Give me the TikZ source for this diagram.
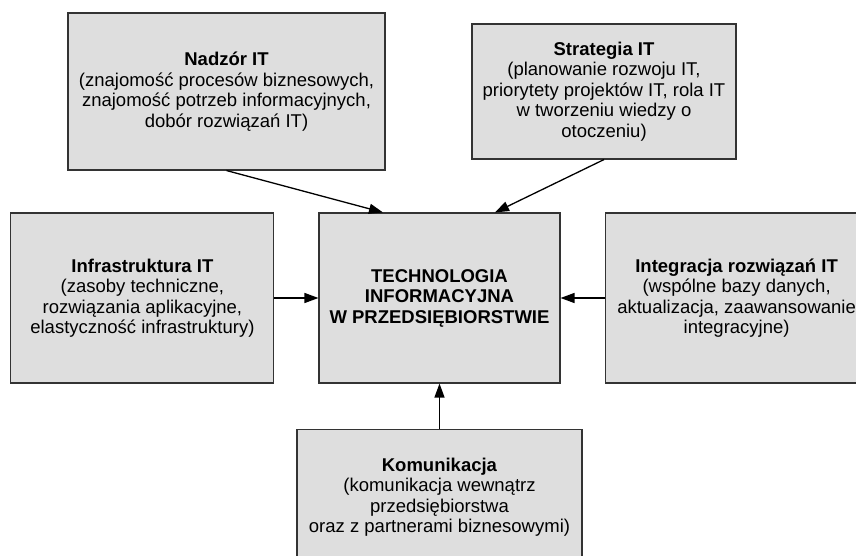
\documentclass[tikz,border=0pt]{standalone}
\usepackage{fontspec}
\setmainfont{Liberation Sans}
\usetikzlibrary{positioning,arrows.meta}

\begin{document}
\begin{tikzpicture}[
  x=1pt, y=-1pt,
  node distance = 44pt,
  box/.style  = {draw=black!80, line width=1.1pt, fill=black!13, align=center,
                 font=\fontsize{18.5}{20.5}\selectfont, inner sep=0pt},
  arr/.style  = {-{Triangle[length=14pt,width=10pt]}, line width=1.3pt, black},
]
\useasboundingbox (0,0) rectangle (856,556);

% ---- central box ----
\node[box, minimum width=241pt, minimum height=170pt] (tech) at (439.5,298)
  {\textbf{TECHNOLOGIA}\\ \textbf{INFORMACYJNA}\\ \textbf{W PRZEDSIĘBIORSTWIE}};

% ---- top row ----
\node[box, minimum width=317pt, minimum height=157pt] (nadzor) at (226.5,91.5)
  {\textbf{Nadzór IT}\\ (znajomość procesów biznesowych,\\ znajomość potrzeb informacyjnych,\\ dobór rozwiązań IT)};
\node[box, minimum width=264pt, minimum height=135pt] (strat) at (604,91.5)
  {\textbf{Strategia IT}\\ (planowanie rozwoju IT,\\ priorytety projektów IT, rola IT\\ w tworzeniu wiedzy o\\ otoczeniu)};

% ---- side boxes ----
\node[box, minimum width=263pt, minimum height=170pt, left=of tech] (infra)
  {\textbf{Infrastruktura IT}\\ (zasoby techniczne,\\ rozwiązania aplikacyjne,\\ elastyczność infrastruktury)};
\node[box, minimum width=263pt, minimum height=170pt, right=of tech] (integr)
  {\textbf{Integracja rozwiązań IT}\\ (wspólne bazy danych,\\ aktualizacja, zaawansowanie\\ integracyjne)};

% ---- bottom box ----
\node[box, minimum width=285pt, minimum height=136pt, below=45pt of tech] (komun)
  {\textbf{Komunikacja}\\ (komunikacja wewnątrz\\ przedsiębiorstwa\\ oraz z partnerami biznesowymi)};

% ---- edges ----
\draw[arr] (nadzor.south) -- (tech.north west -| 383,0);
\draw[arr] (strat.south)  -- (tech.north west -| 495,0);
\draw[arr] (infra.east)   -- (tech.west);
\draw[arr] (integr.west)  -- (tech.east);
\draw[arr] (komun.north)  -- (tech.south);

\end{tikzpicture}
\end{document}
